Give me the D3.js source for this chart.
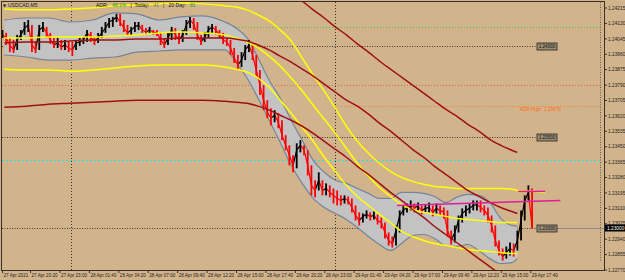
<!DOCTYPE html>
<html>
<head>
  <script src="https://d3js.org/d3.v7.min.js"></script>
  <meta charset="utf-8">
  <title>USDCAD,M5</title>
  <style>
    body {margin: 0; background: #d2b48c; overflow: hidden;}
    svg {display: block; font-family: "Liberation Sans", Arial, sans-serif;}
  </style>
</head>
<body>
<div id="chart"></div>
<script>
  /* Bars: one every 20 minutes, time in hours from 27 Apr 00:00 */
  const barStart = 17 + 50 / 60;
  const barStep = 1 / 3;

  const closes = [
    1.24064,1.24047,1.24008,1.23981,1.24036,1.24064,1.24102,1.24119,1.24008,1.23981,
    1.24091,1.24108,1.24075,1.24036,1.24008,1.24019,1.23997,1.24008,1.23992,1.23981,
    1.24019,1.24025,1.24036,1.24075,1.24052,1.24030,1.24047,1.24075,1.24102,1.24135,
    1.24146,1.24163,1.24135,1.24102,1.24075,1.24091,1.24108,1.24119,1.24091,1.24080,
    1.24091,1.24080,1.24075,1.24036,1.24008,1.24047,1.24091,1.24064,1.24036,1.24064,
    1.24119,1.24146,1.24124,1.24064,1.24025,1.24052,1.24091,1.24108,1.24091,1.24064,
    1.24036,1.24025,1.23992,1.23936,1.23898,1.23925,1.23981,1.24008,1.23953,1.23870,
    1.23787,1.23704,1.23638,1.23605,1.23621,1.23582,1.23511,1.23455,1.23400,1.23345,
    1.23428,1.23455,1.23428,1.23345,1.23234,1.23206,1.23262,1.23206,1.23217,1.23195,
    1.23179,1.23162,1.23151,1.23162,1.23151,1.23112,1.23068,1.23040,1.23063,1.23074,
    1.23063,1.23068,1.23040,1.23029,1.22974,1.22930,1.22913,1.22985,1.23068,1.23096,
    1.23112,1.23123,1.23112,1.23118,1.23096,1.23107,1.23112,1.23085,1.23107,1.23096,
    1.23085,1.22985,1.22930,1.22974,1.23040,1.23079,1.23096,1.23107,1.23123,1.23129,
    1.23112,1.23096,1.23068,1.23013,1.22930,1.22875,1.22841,1.22864,1.22886,1.22875,
    1.22930,1.23040,1.23151,1.23195,1.23000
  ];
  const highs = [
    1.24091,1.24075,1.24047,1.24036,1.24064,1.24091,1.24135,1.24146,1.24119,1.24025,
    1.24119,1.24135,1.24108,1.24075,1.24047,1.24047,1.24036,1.24036,1.24025,1.24025,
    1.24036,1.24047,1.24052,1.24091,1.24080,1.24052,1.24075,1.24108,1.24135,1.24157,
    1.24163,1.24180,1.24180,1.24146,1.24119,1.24108,1.24135,1.24135,1.24119,1.24102,
    1.24108,1.24091,1.24091,1.24080,1.24047,1.24075,1.24108,1.24102,1.24075,1.24091,
    1.24146,1.24163,1.24157,1.24135,1.24064,1.24080,1.24113,1.24124,1.24113,1.24091,
    1.24075,1.24047,1.24036,1.23992,1.23953,1.23969,1.24008,1.24036,1.24008,1.23953,
    1.23870,1.23787,1.23704,1.23660,1.23649,1.23632,1.23593,1.23511,1.23455,1.23400,
    1.23466,1.23483,1.23455,1.23428,1.23345,1.23262,1.23306,1.23262,1.23245,1.23234,
    1.23217,1.23206,1.23179,1.23179,1.23173,1.23162,1.23123,1.23085,1.23079,1.23096,
    1.23085,1.23090,1.23074,1.23057,1.23029,1.22974,1.22952,1.23013,1.23096,1.23123,
    1.23134,1.23151,1.23134,1.23140,1.23123,1.23129,1.23140,1.23123,1.23134,1.23123,
    1.23112,1.23096,1.22985,1.23013,1.23068,1.23107,1.23123,1.23134,1.23151,1.23151,
    1.23151,1.23123,1.23112,1.23068,1.22996,1.22930,1.22886,1.22897,1.22919,1.22913,
    1.22985,1.23096,1.23179,1.23234,1.23217
  ];
  const lows = [
    1.24047,1.24008,1.23969,1.23964,1.23981,1.24036,1.24064,1.24080,1.23969,1.23964,
    1.23992,1.24080,1.24047,1.24014,1.23992,1.23992,1.23981,1.23981,1.23969,1.23947,
    1.23981,1.24003,1.24014,1.24025,1.24025,1.24008,1.24019,1.24052,1.24075,1.24102,
    1.24108,1.24135,1.24113,1.24080,1.24058,1.24064,1.24080,1.24091,1.24075,1.24064,
    1.24075,1.24064,1.24058,1.24008,1.23992,1.24008,1.24036,1.24036,1.24014,1.24025,
    1.24064,1.24102,1.24091,1.24036,1.24008,1.24025,1.24047,1.24075,1.24064,1.24047,
    1.24014,1.24003,1.23953,1.23909,1.23870,1.23887,1.23936,1.23969,1.23925,1.23831,
    1.23732,1.23649,1.23605,1.23566,1.23582,1.23549,1.23483,1.23428,1.23345,1.23306,
    1.23328,1.23416,1.23400,1.23289,1.23179,1.23168,1.23206,1.23179,1.23179,1.23168,
    1.23134,1.23123,1.23123,1.23134,1.23129,1.23085,1.23040,1.23013,1.23029,1.23051,
    1.23040,1.23046,1.23018,1.22996,1.22941,1.22902,1.22891,1.22902,1.22974,1.23068,
    1.23085,1.23096,1.23085,1.23096,1.23074,1.23085,1.23085,1.23063,1.23079,1.23068,
    1.23051,1.22952,1.22908,1.22919,1.22985,1.23029,1.23063,1.23079,1.23096,1.23096,
    1.23085,1.23068,1.23029,1.22974,1.22897,1.22847,1.22819,1.22830,1.22847,1.22841,
    1.22875,1.22957,1.23085,1.23151,1.22996
  ];

  /* Indicator lines, sampled on this hour grid */
  const lineHours = [18,20,22,24,26,28,30,32,34,36,38,39,40,41,42,43,44,45,46,47,
                     48,49,50,51,52,53,54,55,56,57,58,59,60,61,62,63,64,64.5,66,67];
  const upperYellow = [1.24207,1.24202,1.24202,1.24207,1.24213,1.24224,1.24229,1.24235,1.24240,1.24235,
                       1.24224,1.24218,1.24202,1.24174,1.24141,1.24091,1.24030,1.23936,1.23842,1.23754,
                       1.23660,1.23560,1.23477,1.23411,1.23356,1.23311,1.23278,1.23256,1.23240,1.23228,
                       1.23223,1.23217,1.23217,1.23217,1.23217,1.23217,1.23212,1.23206,1.23201,1.23195];
  const midYellow = [1.24047,1.24047,1.24052,1.24052,1.24052,1.24058,1.24064,1.24075,1.24080,1.24075,
                     1.24064,1.24047,1.24025,1.23992,1.23947,1.23892,1.23826,1.23754,1.23676,1.23599,
                     1.23521,1.23439,1.23356,1.23284,1.23223,1.23173,1.23129,1.23101,1.23085,1.23074,
                     1.23063,1.23051,1.23046,1.23040,1.23035,1.23029,1.23029,1.23029,null,null];
  const lowYellow = [1.23875,1.23870,1.23870,1.23864,1.23870,1.23881,1.23892,1.23898,1.23898,1.23898,
                     1.23887,1.23875,1.23859,1.23826,1.23776,1.23704,1.23632,1.23555,1.23477,1.23389,
                     1.23311,1.23234,1.23173,1.23123,1.23074,1.23029,1.22980,1.22952,1.22930,1.22913,
                     1.22902,1.22891,1.22880,1.22875,1.22869,1.22864,1.22858,1.22858,null,null];
  const darkRedMid = [1.24019,1.24025,1.24025,1.24030,1.24036,1.24036,1.24041,1.24041,1.24047,1.24047,
                      1.24047,1.24041,1.24030,1.24008,1.23981,1.23947,1.23914,1.23875,1.23837,1.23792,
                      1.23748,1.23704,1.23671,1.23627,1.23577,1.23533,1.23483,1.23433,1.23389,1.23339,
                      1.23295,1.23251,1.23206,1.23173,1.23140,1.23112,1.23090,1.23079,null,null];
  const darkRedLong = [1.23665,1.23671,1.23682,1.23687,1.23693,1.23698,1.23704,1.23704,1.23704,1.23704,
                       1.23698,1.23693,1.23687,1.23671,1.23649,1.23621,1.23593,1.23560,1.23521,1.23477,
                       1.23433,1.23389,1.23339,1.23295,1.23245,1.23195,1.23151,1.23101,1.23057,1.23007,
                       1.22963,1.22919,1.22875,1.22830,1.22786,1.22742,null,null,null,null];
  const darkRedUpper = [null,null,null,null,null,null,null,null,null,null,
                        null,null,null,null,null,null,1.24301,1.24251,1.24202,1.24157,
                        1.24108,1.24064,1.24014,1.23969,1.23920,1.23875,1.23831,1.23787,1.23743,1.23698,
                        1.23654,1.23616,1.23571,1.23533,1.23488,1.23455,1.23428,1.23416,null,null];
  const bandUpper = [1.24146,1.24157,1.24157,1.24135,1.24146,1.24185,1.24180,1.24146,1.24163,1.24169,
                     1.24135,1.24102,1.24047,1.23936,1.23814,1.23715,1.23593,1.23483,1.23372,1.23306,
                     1.23262,1.23245,1.23217,1.23190,1.23162,1.23162,1.23195,1.23195,1.23190,1.23173,
                     1.23140,1.23168,1.23184,1.23179,1.23140,1.23051,1.23013,1.23007,null,null];
  const bandLower = [1.23953,1.23942,1.23925,1.23925,1.23936,1.23942,1.23969,1.23975,1.23981,1.23981,
                     1.23981,1.23914,1.23826,1.23715,1.23593,1.23472,1.23345,1.23245,1.23162,1.23112,
                     1.23079,1.23046,1.23002,1.22952,1.22908,1.22875,1.22913,1.22957,1.22963,1.22941,
                     1.22902,1.22897,1.22908,1.22875,1.22830,1.22803,1.22808,1.22830,null,null];

  /* Levels and objects */
  const greenLevel = 1.24107;
  const redLevel = 1.23787;
  const cyanLevel = 1.23372;
  const roundLevels = [1.24000, 1.23500, 1.23000];
  const adrHigh = 1.23673;
  const bidPrice = 1.23000;
  const daySeparators = [24, 48];
  const trendLines = [[64.57, 1.23201, 67.02, 1.23201], [53.6, 1.23123, 68.4, 1.23151]];

  /* Axis labels */
  const tickHours = [17.79, 20.333, 23, 25.667, 28.333, 31, 33.667, 36.333, 39, 41.667,
                     44.333, 47, 49.667, 52.333, 55, 57.667, 60.333, 63, 65.667];
  const tickLabels = ["27 Apr 2021","27 Apr 20:20","27 Apr 23:00","28 Apr 01:40","28 Apr 04:20",
                      "28 Apr 07:00","28 Apr 09:40","28 Apr 12:20","28 Apr 15:00","28 Apr 17:40",
                      "28 Apr 20:20","28 Apr 23:00","29 Apr 01:40","29 Apr 04:20","29 Apr 07:00",
                      "29 Apr 09:40","29 Apr 12:20","29 Apr 15:00","29 Apr 17:40"];
  const priceTicks = [1.24215,1.24130,1.24045,1.23960,1.23875,1.23790,1.23705,1.23620,1.23535,
                      1.23450,1.23365,1.23280,1.23195,1.23110,1.23025,1.22940,1.22855,1.22770];

  /* Canvas */
  const width = 625, height = 280;
  const plotL = 2, plotR = 604, plotT = 2, plotB = 270;

  const svg = d3.select("#chart").append("svg")
                .attr("width", width).attr("height", height);

  svg.append("rect").attr("width", width).attr("height", height).attr("fill", "#d2b48c");

  svg.append("clipPath").attr("id", "plot")
     .append("rect").attr("x", plotL).attr("y", plotT)
     .attr("width", plotR - plotL).attr("height", plotB - plotT);

  const x = d3.scaleLinear().domain([17.79, 71.99]).range([2, 600]);
  const y = d3.scaleLinear().domain([1.22770, 1.24215]).range([269.5, 7.5]);

  const g = svg.append("g").attr("clip-path", "url(#plot)");

  /* Day separators */
  g.selectAll(".sep").data(daySeparators).enter().append("line")
   .attr("x1", d => Math.round(x(d)) + 0.5).attr("x2", d => Math.round(x(d)) + 0.5)
   .attr("y1", plotT).attr("y2", plotB)
   .attr("stroke", "#3c3228").attr("stroke-width", 1).attr("stroke-dasharray", "1,2");

  /* Horizontal levels */
  const hLine = (p, x1, x2, color, dash, w) =>
    g.append("line").attr("x1", x1).attr("x2", x2)
     .attr("y1", Math.round(y(p)) + 0.5).attr("y2", Math.round(y(p)) + 0.5)
     .attr("stroke", color).attr("stroke-width", w || 1).attr("stroke-dasharray", dash);

  hLine(greenLevel, plotL, 600, "#3ccc3c", "1,2");
  hLine(redLevel, plotL, 600, "#ee5a3a", "1,2");
  hLine(adrHigh, x(48), 600, "#f07830", "1,2");
  hLine(cyanLevel, plotL, 600, "#20e0e0", "2,2");

  const labelX = 537;
  roundLevels.forEach(p => hLine(p, plotL, labelX, "#463a2e", "1,1.5"));
  hLine(bidPrice, labelX + 20, plotR, "#8a8a8a", null);

  /* Bollinger band */
  const band = lineHours.map((h, i) => ({h, u: bandUpper[i], l: bandLower[i]}));
  g.append("path").datum(band)
   .attr("d", d3.area().defined(d => d.u != null)
     .x(d => x(d.h)).y0(d => y(d.l)).y1(d => y(d.u)).curve(d3.curveMonotoneX))
   .attr("fill", "#c3c3c3");

  const lineGen = d3.line().defined(d => d != null)
    .x((d, i) => x(lineHours[i])).y(d => y(d)).curve(d3.curveMonotoneX);

  [bandUpper, bandLower].forEach(s =>
    g.append("path").attr("d", lineGen(s)).attr("fill", "none")
     .attr("stroke", "#75849a").attr("stroke-width", 1.2));

  /* Bars: a high-low stroke per bar, joined close to close */
  const bars = closes.map((c, i) => ({
    t: barStart + i * barStep, o: i ? closes[i - 1] : c, h: highs[i], l: lows[i], c
  }));
  const barColor = d => d.c >= d.o ? "#000000" : "#ff0000";

  g.selectAll(".link").data(bars.slice(1)).enter().append("line")
   .attr("x1", d => x(d.t - barStep)).attr("y1", d => y(d.o))
   .attr("x2", d => x(d.t)).attr("y2", d => y(d.c))
   .attr("stroke", barColor).attr("stroke-width", 1.2);

  g.selectAll(".bar").data(bars).enter().append("line")
   .attr("class", "bar")
   .attr("x1", d => x(d.t)).attr("x2", d => x(d.t))
   .attr("y1", d => y(Math.max(d.h, d.o, d.c)))
   .attr("y2", d => y(Math.min(d.l, d.o, d.c)))
   .attr("stroke", barColor)
   .attr("stroke-width", 1.8);

  /* Moving averages */
  [[upperYellow, "#ffff00"], [midYellow, "#ffff00"], [lowYellow, "#ffff00"],
   [darkRedMid, "#a01010"], [darkRedLong, "#a01010"], [darkRedUpper, "#a01010"]]
    .forEach(([s, c]) => g.append("path").attr("d", lineGen(s)).attr("fill", "none")
      .attr("stroke", c).attr("stroke-width", 1.5));

  /* Trend lines */
  g.selectAll(".trend").data(trendLines).enter().append("line")
   .attr("x1", d => x(d[0])).attr("y1", d => y(d[1]))
   .attr("x2", d => x(d[2])).attr("y2", d => y(d[3]))
   .attr("stroke", "#e01c96").attr("stroke-width", 1.5);

  /* Right-side level labels */
  roundLevels.forEach(p => {
    const yy = Math.round(y(p));
    svg.append("rect").attr("x", labelX).attr("y", yy - 3).attr("width", 20).attr("height", 7)
       .attr("fill", "#9c8c74").attr("stroke", "#222").attr("stroke-width", 0.8);
    svg.append("text").attr("x", labelX + 10).attr("y", yy + 2.2)
       .attr("text-anchor", "middle").attr("font-size", 4.6).attr("fill", "#111")
       .text(d3.format(".5f")(p));
  });

  svg.append("text").attr("x", 561).attr("y", y(adrHigh) + 5)
     .attr("text-anchor", "end").attr("font-size", 4.8).attr("fill", "#ff6a10")
     .text("ADR High: " + d3.format(".5f")(adrHigh));

  /* Frame */
  svg.append("rect").attr("x", plotL - 0.5).attr("y", plotT - 0.5)
     .attr("width", plotR - plotL + 1).attr("height", plotB - plotT + 1)
     .attr("fill", "none").attr("stroke", "#3a3028").attr("stroke-width", 1);

  svg.append("line").attr("x1", 600.5).attr("x2", 600.5).attr("y1", plotT).attr("y2", 262)
     .attr("stroke", "#6a5a48").attr("stroke-dasharray", "1,1.5");

  /* Axes */
  const xAxis = svg.append("g").attr("transform", `translate(0,${plotB})`)
    .call(d3.axisBottom(x).tickValues(tickHours).tickSize(3).tickFormat((d, i) => tickLabels[i]));
  xAxis.select(".domain").remove();
  xAxis.selectAll("line").attr("stroke", "#3a3028");
  xAxis.selectAll("text").attr("font-size", 4.6).attr("fill", "#222")
       .attr("text-anchor", "start").attr("dx", 1).attr("dy", 0).attr("y", 6.5);

  const yAxis = svg.append("g").attr("transform", `translate(${plotR},0)`)
    .call(d3.axisRight(y).tickValues(priceTicks).tickSize(3).tickFormat(d3.format(".5f")));
  yAxis.select(".domain").remove();
  yAxis.selectAll("line").attr("stroke", "#3a3028");
  yAxis.selectAll("text").attr("font-size", 4.8).attr("fill", "#222").attr("x", 4).attr("dy", "0.35em");

  /* Current bid label */
  const by = Math.round(y(bidPrice));
  svg.append("rect").attr("x", plotR + 1).attr("y", by - 3.5).attr("width", 20).attr("height", 7)
     .attr("fill", "#000");
  svg.append("text").attr("x", plotR + 3).attr("y", by + 1.8).attr("font-size", 4.8)
     .attr("fill", "#fff").text(d3.format(".5f")(bidPrice));

  /* Header */
  svg.append("text").attr("x", 3).attr("y", 7).attr("font-size", 4).attr("fill", "#111")
     .attr("font-family", "DejaVu Sans").text("\u25BC");
  svg.append("text").attr("x", 8).attr("y", 7).attr("font-size", 5).attr("fill", "#111").text("USDCAD,M5");

  const header = svg.append("text").attr("x", 96).attr("y", 7).attr("font-size", 5).attr("fill", "#111")
    .attr("xml:space", "preserve");
  header.append("tspan").text("ADR:   ");
  header.append("tspan").attr("fill", "#1aa01a").text("48.1%");
  header.append("tspan").text("   |  Today:   ");
  header.append("tspan").attr("fill", "#6a8a10").text("41");
  header.append("tspan").text("   |   20 Day:   ");
  header.append("tspan").attr("fill", "#1aa01a").text("81");
</script>
</body>
</html>
